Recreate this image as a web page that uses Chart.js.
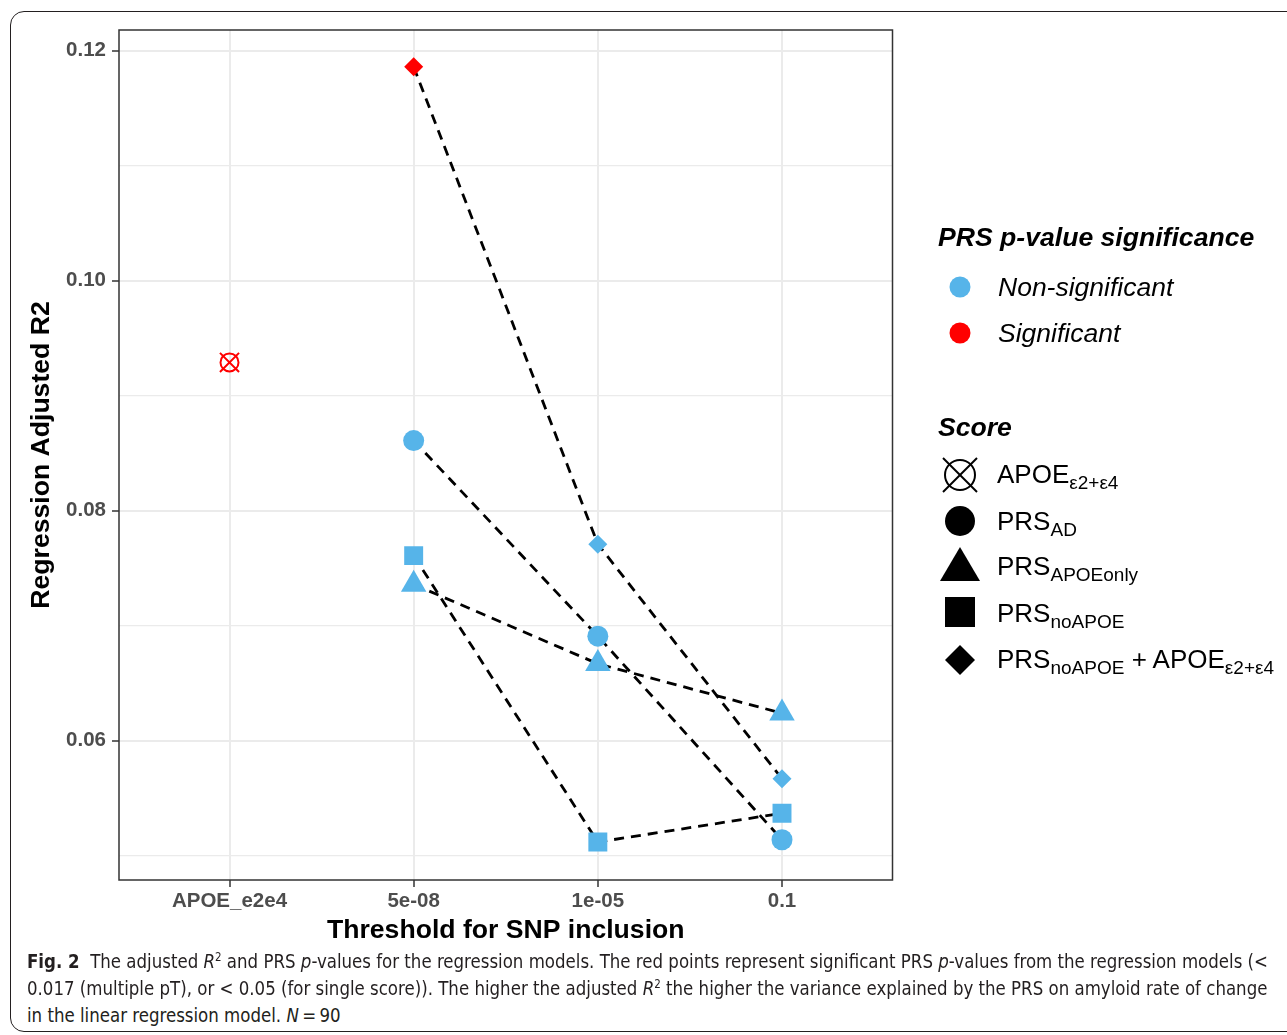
<!DOCTYPE html>
<html>
<head>
<meta charset="utf-8">
<script src="https://cdn.jsdelivr.net/npm/chart.js@4.4.0/dist/chart.umd.min.js"></script>
<style>
  body { margin: 0; background: #fff; width: 1287px; height: 1035px; overflow: hidden; position: relative; font-family: "Liberation Sans", Arial, sans-serif; }
  #frame { position: absolute; left: 10px; top: 11px; width: 1320px; height: 1021px; border: 1.5px solid #231f20; border-radius: 14px; box-sizing: border-box; }
  #chartBox { position: absolute; left: 0; top: 0; width: 908px; height: 955px; }
  #legend { position: absolute; left: 900px; top: 0; }
  .cap { position: absolute; left: 27px; white-space: nowrap; font-family: "Liberation Sans Narrow", "DejaVu Sans Condensed", "Liberation Sans", sans-serif; font-size: 20px; line-height: 24px; color: #231f20; transform-origin: 0 0; }
  .cap sup { font-size: 0.62em; line-height: 0; vertical-align: 0.55em; }
</style>
</head>
<body>
<div id="frame"></div>
<div id="chartBox"><canvas id="scoreChart" width="908" height="955"></canvas></div>

<svg id="legend" width="387" height="720" font-family="Liberation Sans, Arial, sans-serif">
  <text x="38" y="246" font-size="26.6" font-weight="bold" font-style="italic">PRS p-value significance</text>
  <circle cx="60" cy="287" r="10.5" fill="#56B4E9"/>
  <text x="98" y="296" font-size="26.5" font-style="italic">Non-significant</text>
  <circle cx="60" cy="333" r="10.5" fill="#FF0000"/>
  <text x="98" y="342" font-size="26.5" font-style="italic">Significant</text>

  <text x="38" y="436" font-size="26.6" font-weight="bold" font-style="italic">Score</text>
  <circle cx="60" cy="475" r="15" fill="none" stroke="#000" stroke-width="2"/>
  <line x1="43" y1="458" x2="77" y2="492" stroke="#000" stroke-width="2"/>
  <line x1="43" y1="492" x2="77" y2="458" stroke="#000" stroke-width="2"/>
  <text x="97" y="483" font-size="26">APOE<tspan font-size="19" dy="6">ε2+ε4</tspan></text>
  <circle cx="60" cy="521" r="15" fill="#000"/>
  <text x="97" y="530" font-size="26">PRS<tspan font-size="19" dy="6">AD</tspan></text>
  <polygon points="60,547 40,581 80,581" fill="#000"/>
  <text x="97" y="575" font-size="26">PRS<tspan font-size="19" dy="6">APOEonly</tspan></text>
  <rect x="45" y="597" width="30" height="30" fill="#000"/>
  <text x="97" y="622" font-size="26">PRS<tspan font-size="19" dy="6">noAPOE</tspan></text>
  <polygon points="60,645 75,660 60,675 45,660" fill="#000"/>
  <text x="97" y="668" font-size="26">PRS<tspan font-size="19" dy="6">noAPOE</tspan><tspan dy="-6"> + APOE</tspan><tspan font-size="19" dy="6">ε2+ε4</tspan></text>
</svg>

<div class="cap" id="cap1" style="top:949px"><b>Fig. 2</b>&nbsp;&nbsp;The adjusted <i>R</i><sup>2</sup> and PRS <i>p</i>-values for the regression models. The red points represent significant PRS <i>p</i>-values from the regression models (&lt;</div>
<div class="cap" id="cap2" style="top:976px">0.017 (multiple pT), or &lt; 0.05 (for single score)). The higher the adjusted <i>R</i><sup>2</sup> the higher the variance explained by the PRS on amyloid rate of change</div>
<div class="cap" id="cap3" style="top:1003px">in the linear regression model. <i>N</i>&thinsp;=&thinsp;90</div>

<script>
// x axis categories (threshold for SNP inclusion)
const thresholds = ['APOE_e2e4', '5e-08', '1e-05', '0.1'];
// PRS scores sit at 5e-08, 1e-05, 0.1
const prsPositions = [1, 2, 3];

// adjusted R2 per score
const apoeValue = [0.0929];
const prsAD = [0.0861, 0.0691, 0.0514];
const prsAPOEonly = [0.0736, 0.0667, 0.0624];
const prsNoAPOE = [0.0761, 0.0512, 0.0537];
const prsNoAPOEplusAPOE = [0.1186, 0.0771, 0.0567];

// PRS p-value significance
const sigAPOE = [true];
const sigAD = [false, false, false];
const sigAPOEonly = [false, false, false];
const sigNoAPOE = [false, false, false];
const sigNoAPOEplusAPOE = [true, false, false];

// y axis
const yTicks = [0.05, 0.06, 0.07, 0.08, 0.09, 0.10, 0.11, 0.12];
const yLabels = ['0.06', '0.08', '0.10', '0.12'];

const BLUE = '#56B4E9';
const RED = '#FF0000';

function toPoints(values, xs) {
  return values.map((v, i) => ({x: xs[i], y: v}));
}
function sigColors(sig) {
  return sig.map(s => s ? RED : BLUE);
}
function isMajor(v) {
  return yLabels.includes(v.toFixed(2));
}

// points sit on top of the dashed lines (lower order draws last)
function pointSet(values, sig, style, radius) {
  return {
    type: 'scatter',
    data: toPoints(values, prsPositions),
    pointStyle: style,
    pointRadius: radius,
    pointBackgroundColor: sigColors(sig),
    pointBorderWidth: 0,
    order: 0
  };
}
function lineSet(values) {
  return {
    type: 'line',
    data: toPoints(values, prsPositions),
    borderColor: '#000',
    borderWidth: 2.8,
    borderDash: [10, 7],
    pointRadius: 0,
    fill: false,
    order: 1
  };
}

//data
const data = {
  datasets: [
    lineSet(prsAD),
    lineSet(prsAPOEonly),
    lineSet(prsNoAPOE),
    lineSet(prsNoAPOEplusAPOE),
    pointSet(prsAD, sigAD, 'circle', 10.5),
    pointSet(prsAPOEonly, sigAPOEonly, 'triangle', 14.7),
    pointSet(prsNoAPOE, sigNoAPOE, 'rect', 13.4),
    pointSet(prsNoAPOEplusAPOE, sigNoAPOEplusAPOE, 'rectRot', 9.5),
    {
      type: 'scatter',
      data: toPoints(apoeValue, [0]),
      pointStyle: 'circle',
      pointRadius: 9,
      pointBackgroundColor: 'rgba(0,0,0,0)',
      pointBorderColor: sigColors(sigAPOE),
      pointBorderWidth: 2,
      order: 0
    },
    {
      type: 'scatter',
      data: toPoints(apoeValue, [0]),
      pointStyle: 'crossRot',
      pointRadius: 13.5,
      pointBorderColor: sigColors(sigAPOE),
      pointBorderWidth: 2,
      order: 0
    }
  ]
};

const panelBorder = {
  id: 'panelBorder',
  beforeDatasetsDraw(chart) {
    const a = chart.chartArea;
    const ctx = chart.ctx;
    ctx.save();
    ctx.strokeStyle = '#333333';
    ctx.lineWidth = 1.5;
    ctx.strokeRect(a.left, a.top, a.right - a.left, a.bottom - a.top);
    ctx.restore();
  }
};

//config
const config = {
  type: 'scatter',
  data: data,
  plugins: [panelBorder],
  options: {
    responsive: false,
    animation: false,
    layout: {padding: {left: 26, top: 30, right: 0, bottom: 8.4}},
    plugins: {legend: {display: false}, tooltip: {enabled: false}},
    scales: {
      x: {
        type: 'linear',
        min: -0.6,
        max: 3.6,
        afterFit: s => { s.height = 66.6; },
        afterBuildTicks: s => { s.ticks = thresholds.map((t, i) => ({value: i})); },
        ticks: {
          callback: v => thresholds[v],
          color: '#4D4D4D',
          padding: 2.4,
          maxRotation: 0,
          autoSkip: false,
          font: {family: 'Liberation Sans', size: 20.5, weight: 'bold'}
        },
        grid: {color: '#EBEBEB', lineWidth: 2, tickLength: 7, tickColor: '#333333', tickWidth: 1.5},
        border: {display: false},
        title: {
          display: true,
          text: 'Threshold for SNP inclusion',
          color: '#000',
          padding: 0,
          font: {family: 'Liberation Sans', size: 26.6, weight: 'bold'}
        }
      },
      y: {
        min: 0.0479,
        max: 0.1218,
        afterFit: s => { s.width = 93; },
        afterBuildTicks: s => { s.ticks = yTicks.map(v => ({value: v})); },
        ticks: {
          callback: v => isMajor(v) ? v.toFixed(2) : '',
          color: '#4D4D4D',
          padding: 6,
          autoSkip: false,
          font: {family: 'Liberation Sans', size: 20.5, weight: 'bold'}
        },
        grid: {
          color: '#EBEBEB',
          lineWidth: c => isMajor(c.tick.value) ? 2 : 1.2,
          tickLength: 7,
          tickColor: c => isMajor(c.tick.value) ? '#333333' : 'rgba(0,0,0,0)',
          tickWidth: 1.5
        },
        border: {display: false},
        title: {
          display: true,
          text: 'Regression Adjusted R2',
          color: '#000',
          padding: 0,
          font: {family: 'Liberation Sans', size: 26.6, weight: 'bold'}
        }
      }
    }
  }
};

//rendering
const scoreChart = new Chart(document.getElementById('scoreChart'), config);

// squeeze caption lines to the printed width (same factor for every line)
const cap1 = document.getElementById('cap1');
const capScale = 1241 / cap1.getBoundingClientRect().width;
['cap1', 'cap2', 'cap3'].forEach(id => {
  document.getElementById(id).style.transform = 'scaleX(' + capScale + ')';
});
</script>
</body>
</html>
